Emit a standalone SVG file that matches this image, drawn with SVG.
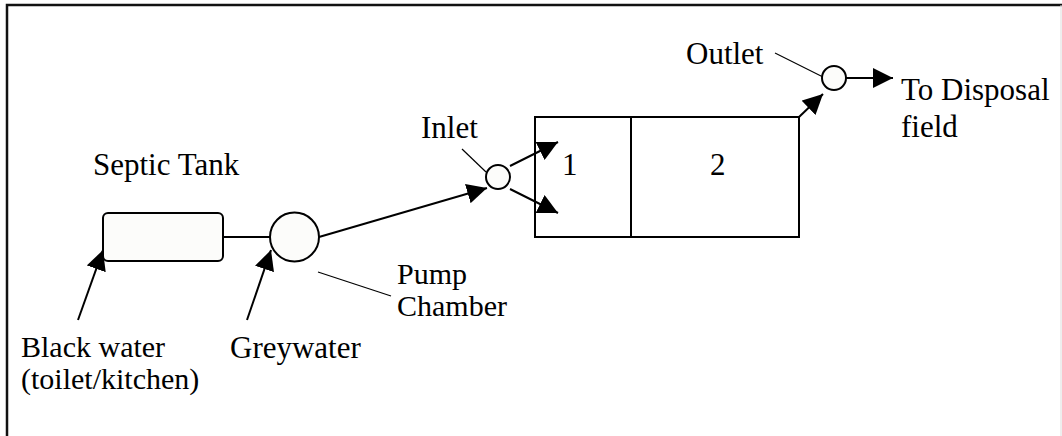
<svg xmlns="http://www.w3.org/2000/svg" width="1062" height="436" viewBox="0 0 1062 436">
<style>
text{font-family:"Liberation Serif","Times New Roman",serif;font-size:31px;fill:#000}
.sm{font-size:30px}
.s{stroke:#000;stroke-width:2;fill:none}
.t{stroke:#000;stroke-width:1.2;fill:none}
.n{stroke:#000;stroke-width:2;fill:#fcfcfa}
</style>
<defs>
<marker id="b" viewBox="0 0 10 10" refX="10" refY="5" markerWidth="20" markerHeight="20" markerUnits="userSpaceOnUse" orient="auto">
<path d="M0,0 L10,5 L0,10 z" fill="#000"/>
</marker>
</defs>
<rect width="1062" height="436" fill="#fff"/>
<g id="frame">
<path d="M7,436 V5 H1062" stroke="#111" stroke-width="2.5" fill="none"/>
<line x1="1061" y1="5" x2="1061" y2="436" stroke="#ddd" stroke-width="1"/>
</g>
<g id="connectors">
<line class="s" x1="223" y1="237" x2="270" y2="237"/>
<line class="s" x1="78" y1="320" x2="103" y2="250" marker-end="url(#b)"/>
<line class="s" x1="247" y1="320" x2="271" y2="250" marker-end="url(#b)"/>
<line class="s" x1="319" y1="237" x2="487" y2="188" marker-end="url(#b)"/>
<line class="s" x1="510" y1="166" x2="558" y2="142" marker-end="url(#b)"/>
<line class="s" x1="510" y1="189" x2="558" y2="213" marker-end="url(#b)"/>
<line class="s" x1="799" y1="117" x2="823" y2="94" marker-end="url(#b)"/>
<line class="s" x1="846" y1="78" x2="893" y2="78" marker-end="url(#b)"/>
<line class="t" x1="318" y1="272" x2="391" y2="296"/>
<line class="t" x1="462" y1="149" x2="486" y2="172"/>
<line class="t" x1="775" y1="53" x2="823" y2="77"/>
</g>
<g id="septic-tank">
<rect class="n" x="103" y="213" width="120" height="48" rx="5"/>
<text x="93" y="175">Septic Tank</text>
</g>
<g id="pump-chamber">
<circle class="n" cx="294.5" cy="237" r="24.5"/>
<text class="sm" x="397" y="284">Pump</text>
<text class="sm" x="397" y="316">Chamber</text>
</g>
<g id="black-water">
<text class="sm" x="21" y="357">Black water</text>
<text class="sm" x="21" y="389">(toilet/kitchen)</text>
</g>
<g id="greywater">
<text x="230" y="358">Greywater</text>
</g>
<g id="inlet">
<circle class="n" cx="498" cy="177" r="12"/>
<text x="421" y="138">Inlet</text>
</g>
<g id="tank">
<rect class="s" x="535" y="117" width="264" height="120"/>
<line class="s" x1="631" y1="117" x2="631" y2="237"/>
<text x="562" y="175">1</text>
<text x="710" y="175">2</text>
</g>
<g id="outlet">
<circle class="n" cx="834" cy="78" r="12"/>
<text x="686" y="64">Outlet</text>
</g>
<g id="disposal">
<text x="901" y="100">To Disposal</text>
<text x="901" y="137">field</text>
</g>
</svg>
